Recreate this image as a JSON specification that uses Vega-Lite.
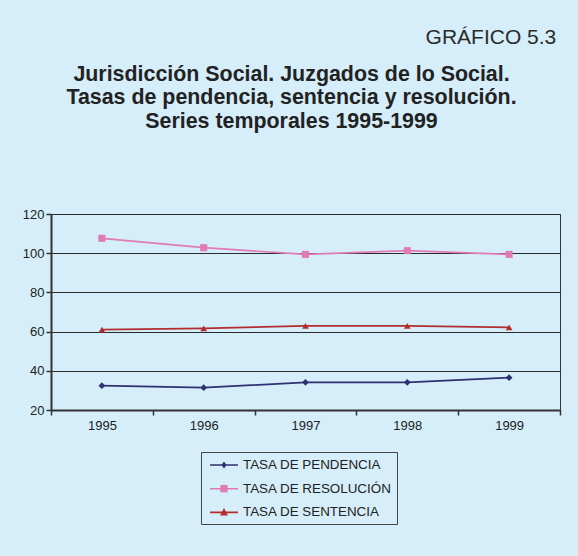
{
  "$schema": "https://vega.github.io/schema/vega-lite/v6.json",
  "background": "#D5EEF9",
  "padding": {"left": 21, "top": 26, "right": 16, "bottom": 31},
  "title": {
    "text": "GRÁFICO 5.3",
    "anchor": "end",
    "fontSize": 21,
    "fontWeight": "normal",
    "font": "Liberation Sans",
    "color": "#2b2b2b",
    "dx": -5,
    "offset": 16
  },
  "config": {
    "font": "Liberation Sans",
    "view": {"stroke": "#333333", "strokeWidth": 1},
    "axis": {
      "labelFont": "Liberation Sans",
      "labelFontSize": 13,
      "labelColor": "#222222",
      "domainColor": "#333333",
      "tickColor": "#333333"
    }
  },
  "vconcat": [
    {
      "width": 509,
      "height": 196,
      "title": {
        "text": [
          "Jurisdicción Social. Juzgados de lo Social.",
          "Tasas de pendencia, sentencia y resolución.",
          "Series temporales 1995-1999"
        ],
        "font": "Liberation Sans",
        "fontSize": 21.4,
        "fontWeight": "bold",
        "lineHeight": 23.3,
        "anchor": "middle",
        "offset": 76,
        "dx": -14,
        "color": "#222222"
      },
      "data": {
        "values": [
          {"year": "1995", "serie": "TASA DE PENDENCIA", "valor": 32.4},
          {"year": "1996", "serie": "TASA DE PENDENCIA", "valor": 31.4},
          {"year": "1997", "serie": "TASA DE PENDENCIA", "valor": 34.1},
          {"year": "1998", "serie": "TASA DE PENDENCIA", "valor": 34.1},
          {"year": "1999", "serie": "TASA DE PENDENCIA", "valor": 36.5},
          {"year": "1995", "serie": "TASA DE RESOLUCIÓN", "valor": 107.6},
          {"year": "1996", "serie": "TASA DE RESOLUCIÓN", "valor": 102.8},
          {"year": "1997", "serie": "TASA DE RESOLUCIÓN", "valor": 99.4},
          {"year": "1998", "serie": "TASA DE RESOLUCIÓN", "valor": 101.3},
          {"year": "1999", "serie": "TASA DE RESOLUCIÓN", "valor": 99.4},
          {"year": "1995", "serie": "TASA DE SENTENCIA", "valor": 61.0},
          {"year": "1996", "serie": "TASA DE SENTENCIA", "valor": 61.6},
          {"year": "1997", "serie": "TASA DE SENTENCIA", "valor": 62.9},
          {"year": "1998", "serie": "TASA DE SENTENCIA", "valor": 62.9},
          {"year": "1999", "serie": "TASA DE SENTENCIA", "valor": 62.2}
        ]
      },
      "encoding": {
        "x": {
          "field": "year",
          "type": "ordinal",
          "scale": {"type": "band", "paddingInner": 0, "paddingOuter": 0},
          "axis": {
            "title": null,
            "labelAngle": 0,
            "tickBand": "extent",
            "domainWidth": 2,
            "tickSize": 5,
            "tickWidth": 1.5,
            "labelPadding": 4,
            "grid": false
          }
        },
        "y": {
          "field": "valor",
          "type": "quantitative",
          "scale": {"domain": [20, 120], "nice": false, "zero": false},
          "axis": {
            "title": null,
            "values": [20, 40, 60, 80, 100, 120],
            "grid": true,
            "gridColor": "#2a2a2a",
            "gridWidth": 1,
            "gridOpacity": 1,
            "domainWidth": 2,
            "tickSize": 5,
            "tickWidth": 1.5,
            "labelPadding": 2
          }
        },
        "color": {
          "field": "serie",
          "type": "nominal",
          "scale": {
            "domain": ["TASA DE PENDENCIA", "TASA DE RESOLUCIÓN", "TASA DE SENTENCIA"],
            "range": ["#2E3170", "#E07BB5", "#B22E2E"]
          },
          "legend": {
            "title": null,
            "orient": "none",
            "legendX": 150,
            "legendY": 238,
            "direction": "vertical",
            "strokeColor": "#444444",
            "padding": 5,
            "symbolSize": 256,
            "symbolOffset": 10,
            "labelOffset": 11,
            "rowPadding": 8.7,
            "labelFont": "Liberation Sans",
            "labelFontSize": 13.4,
            "labelColor": "#222222",
            "labelExpr": "datum.label + '\u00a0\u00a0'",
            "encode": {
              "symbols": {
                "update": {
                  "shape": {
                    "signal": "datum.value === 'TASA DE PENDENCIA' ? 'M-1.75,-0.1L1.75,-0.1L1.75,0.1L-1.75,0.1Z M0,-0.45L0.32,0L0,0.45L-0.32,0Z' : datum.value === 'TASA DE RESOLUCIÓN' ? 'M-1.75,-0.1L1.75,-0.1L1.75,0.1L-1.75,0.1Z M-0.45,-0.45L0.45,-0.45L0.45,0.45L-0.45,0.45Z' : 'M-1.75,-0.1L1.75,-0.1L1.75,0.1L-1.75,0.1Z M0,-0.55L0.5,0.4L-0.5,0.4Z'"
                  },
                  "fill": {"scale": "color", "field": "value"},
                  "stroke": {"value": "transparent"},
                  "strokeWidth": {"value": 0},
                  "opacity": {"value": 1}
                }
              }
            }
          }
        }
      },
      "layer": [
        {"mark": {"type": "line", "strokeWidth": 1.7}},
        {
          "transform": [{"filter": "datum.serie === 'TASA DE PENDENCIA'"}],
          "mark": {"type": "point", "filled": true, "opacity": 1, "shape": "diamond", "size": 45}
        },
        {
          "transform": [{"filter": "datum.serie === 'TASA DE RESOLUCIÓN'"}],
          "mark": {"type": "point", "filled": true, "opacity": 1, "shape": "square", "size": 50}
        },
        {
          "transform": [{"filter": "datum.serie === 'TASA DE SENTENCIA'"}],
          "mark": {"type": "point", "filled": true, "opacity": 1, "shape": "triangle-up", "size": 45}
        }
      ]
    }
  ]
}
